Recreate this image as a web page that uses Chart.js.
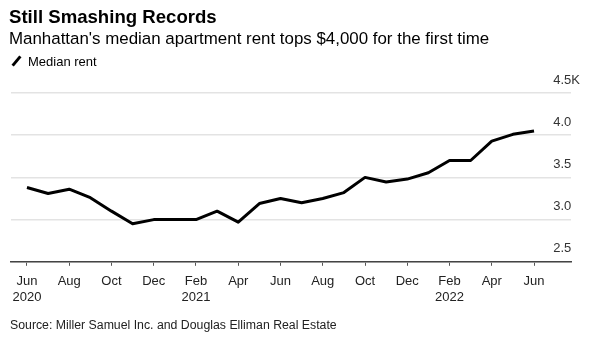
<!DOCTYPE html>
<html>
<head>
<meta charset="utf-8">
<script src="https://cdn.jsdelivr.net/npm/chart.js@4"></script>
<style>
  body { margin: 0; background: #fff; font-family: "Liberation Sans", Arial, sans-serif; color: #000; }
  #wrap { position: relative; width: 600px; height: 340px; overflow: hidden; }
  #chart { position: absolute; left: 0; top: 0; }
  .title { position: absolute; left: 9px; top: 6px; font-size: 18.6px; font-weight: bold; }
  .subtitle { position: absolute; left: 9px; top: 29px; font-size: 16.9px; }
  .legend { position: absolute; left: 10px; top: 54px; font-size: 13px; }
  .legend .mark { display: inline-block; width: 3px; height: 12px; background: #000; transform: rotate(40deg); margin: 0 10px 0 5px; vertical-align: -1px; }
  .source { position: absolute; left: 10px; top: 318px; font-size: 12.3px; color: #222; }
</style>
</head>
<body>
<div id="wrap">
  <canvas id="chart" width="600" height="340"></canvas>
  <div class="title">Still Smashing Records</div>
  <div class="subtitle">Manhattan's median apartment rent tops $4,000 for the first time</div>
  <div class="legend"><span class="mark"></span>Median rent</div>
  <div class="source">Source: Miller Samuel Inc. and Douglas Elliman Real Estate</div>
</div>
<script>
// Months from Jun 2020 to Jun 2022
const months = ['Jun', 'Jul', 'Aug', 'Sep', 'Oct', 'Nov', 'Dec',
  'Jan', 'Feb', 'Mar', 'Apr', 'May', 'Jun', 'Jul', 'Aug', 'Sep', 'Oct', 'Nov', 'Dec',
  'Jan', 'Feb', 'Mar', 'Apr', 'May', 'Jun'];
// Year shown under these month indexes
const yearLabels = { 0: '2020', 8: '2021', 20: '2022' };
// Median rent, thousands of dollars
const medianRent = [3.38, 3.31, 3.36, 3.26, 3.10, 2.95, 3.00, 3.00, 3.00, 3.10, 2.97, 3.19,
  3.25, 3.20, 3.25, 3.32, 3.50, 3.445, 3.48, 3.555, 3.70, 3.70, 3.93, 4.01, 4.05];
const xTickIdx = [0, 2, 4, 6, 8, 10, 12, 14, 16, 18, 20, 22, 24];
const yTicks = [2.5, 3.0, 3.5, 4.0, 4.5];

const ctx = document.getElementById('chart').getContext('2d');
const chart = new Chart(ctx, {
  type: 'line',
  data: {
    datasets: [{
      label: 'Median rent',
      data: medianRent.map((v, i) => ({ x: i, y: v })),
      borderColor: '#000',
      borderWidth: 3,
      pointRadius: 0,
      tension: 0,
      borderJoinStyle: 'round'
    }]
  },
  options: {
    responsive: false,
    animation: false,
    layout: { padding: { top: 93, left: 11, right: 11, bottom: 27 } },
    plugins: { legend: { display: false }, tooltip: { enabled: false } },
    scales: {
      x: {
        type: 'linear',
        min: -0.756,
        max: 25.75,
        afterBuildTicks: (scale) => { scale.ticks = xTickIdx.map(v => ({ value: v })); },
        grid: { drawOnChartArea: false, drawTicks: true, tickLength: 4, color: '#555', lineWidth: 1 },
        border: { display: true, color: '#444', width: 1.5 },
        ticks: {
          autoSkip: false,
          maxRotation: 0,
          padding: 8,
          color: '#222',
          font: { family: '"Liberation Sans", Arial, sans-serif', size: 13 },
          callback: (v) => yearLabels[v] ? [months[v], yearLabels[v]] : months[v]
        }
      },
      y: {
        position: 'right',
        min: 2.5,
        max: 4.5,
        afterBuildTicks: (scale) => { scale.ticks = yTicks.map(v => ({ value: v })); },
        grid: { drawTicks: false, color: '#e3e3e3', lineWidth: 1.5 },
        border: { display: false },
        ticks: {
          mirror: true,
          padding: 9,
          labelOffset: -13,
          crossAlign: 'far',
          color: '#333',
          font: { family: '"Liberation Sans", Arial, sans-serif', size: 13 },
          callback: (v) => v === 4.5 ? '4.5K' : v.toFixed(1)
        }
      }
    }
  }
});
</script>
</body>
</html>
